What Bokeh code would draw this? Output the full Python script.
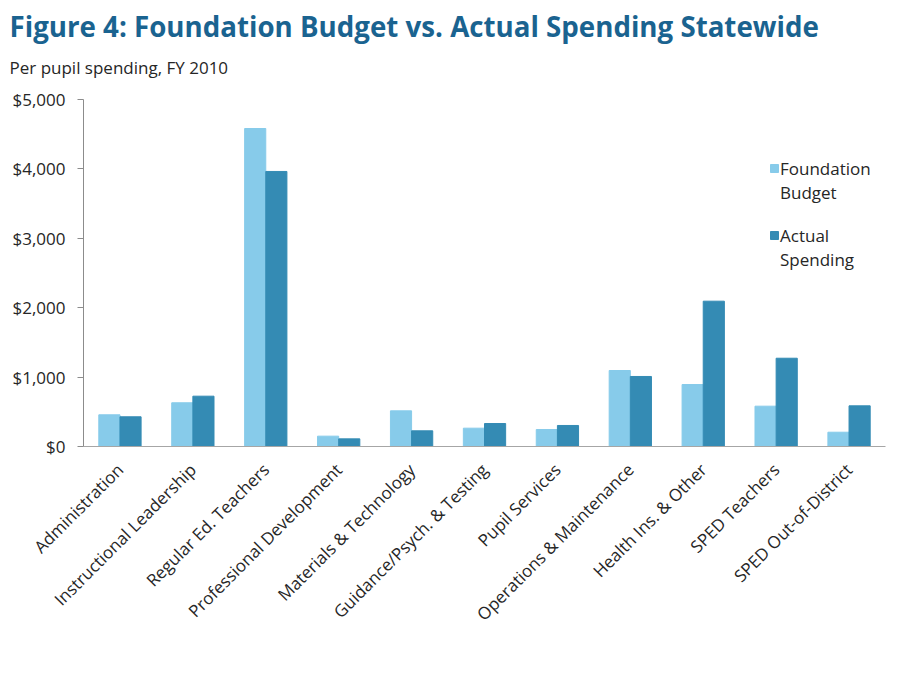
from bokeh.plotting import figure
from bokeh.models import FactorRange, Range1d, Title, NumeralTickFormatter, FixedTicker, Legend, LegendItem, ColumnDataSource
from bokeh.transform import dodge
from bokeh.embed import file_html
from bokeh.resources import INLINE
from math import pi

categories = ["Administration", "Instructional Leadership", "Regular Ed. Teachers",
              "Professional Development", "Materials & Technology", "Guidance/Psych. & Testing",
              "Pupil Services", "Operations & Maintenance", "Health Ins. & Other",
              "SPED Teachers", "SPED Out-of-District"]
foundation_budget = [457, 630, 4582, 149, 514, 264, 245, 1095, 893, 581, 206]
actual_spending = [428, 725, 3963, 110, 226, 331, 303, 1009, 2094, 1272, 586]
y_ticks = [0, 1000, 2000, 3000, 4000, 5000]
title_text = "Figure 4: Foundation Budget vs. Actual Spending Statewide"
subtitle_text = "Per pupil spending, FY 2010"

FONT = "Open Sans"
LIGHT = "#87cbea"
DARK = "#348bb4"
TXT = "#262626"

src = ColumnDataSource(dict(cat=categories, fb=foundation_budget, act=actual_spending))

p = figure(x_range=FactorRange(*categories, range_padding=0), y_range=Range1d(0, 5000),
           frame_width=802, frame_height=347, min_border_left=83, min_border_right=8,
           min_border_top=99, min_border_bottom=10,
           output_backend="svg", toolbar_location=None, tools="")
p.outline_line_color = None
p.background_fill_color = "white"
p.border_fill_color = "white"
p.xgrid.grid_line_color = None
p.ygrid.grid_line_color = None

r1 = p.vbar(x=dodge("cat", -0.145, range=p.x_range), top="fb", width=0.29, source=src,
            fill_color=LIGHT, line_color=LIGHT)
r2 = p.vbar(x=dodge("cat", 0.145, range=p.x_range), top="act", width=0.29, source=src,
            fill_color=DARK, line_color=DARK)
blank = p.vbar(x=[], top=[], width=0.1, fill_alpha=0, line_alpha=0)

# axes
p.yaxis.ticker = FixedTicker(ticks=y_ticks)
p.yaxis.formatter = NumeralTickFormatter(format="$0,0")
p.yaxis.minor_tick_line_color = None
p.yaxis.major_tick_out = 6
p.yaxis.major_tick_in = 0
p.yaxis.axis_line_color = "#8c8c8c"
p.yaxis.major_tick_line_color = "#8c8c8c"
p.yaxis.major_label_text_font = FONT
p.yaxis.major_label_text_font_size = "17px"
p.yaxis.major_label_text_color = TXT
p.yaxis.major_label_standoff = 12

p.xaxis.axis_line_color = "#a6a6a6"
p.xaxis.major_tick_line_color = None
p.xaxis.minor_tick_line_color = None
p.xaxis.major_label_orientation = pi / 4
p.xaxis.major_label_text_font = FONT
p.xaxis.major_label_text_font_size = "17px"
p.xaxis.major_label_text_color = TXT
p.xaxis.major_label_standoff = 14

leg_style = dict(orientation="vertical", label_text_font=FONT, label_text_font_size="17px",
                 label_text_color=TXT, glyph_width=10, glyph_height=10, label_standoff=1,
                 label_height=24, spacing=0, padding=0, margin=0, border_line_color=None,
                 background_fill_alpha=0)
leg1 = Legend(items=[LegendItem(label="Foundation", renderers=[r1]),
                     LegendItem(label="Budget", renderers=[blank])],
              location=(686, 242), **leg_style)
leg2 = Legend(items=[LegendItem(label="Actual", renderers=[r2]),
                     LegendItem(label="Spending", renderers=[blank])],
              location=(686, 175), **leg_style)
p.add_layout(leg1)
p.add_layout(leg2)

sub = Title(text=subtitle_text, text_font=FONT, text_font_size="17px",
            text_font_style="normal", text_color=TXT, align="left", offset=-74, standoff=42)
p.add_layout(sub, "above")
main = Title(text=title_text, text_font=FONT, text_font_size="27.7px", text_font_style="bold",
             text_color="#1a6390", align="left", offset=-74, standoff=-24)
p.add_layout(main, "above")

open("out.html", "w").write(file_html(p, INLINE))
